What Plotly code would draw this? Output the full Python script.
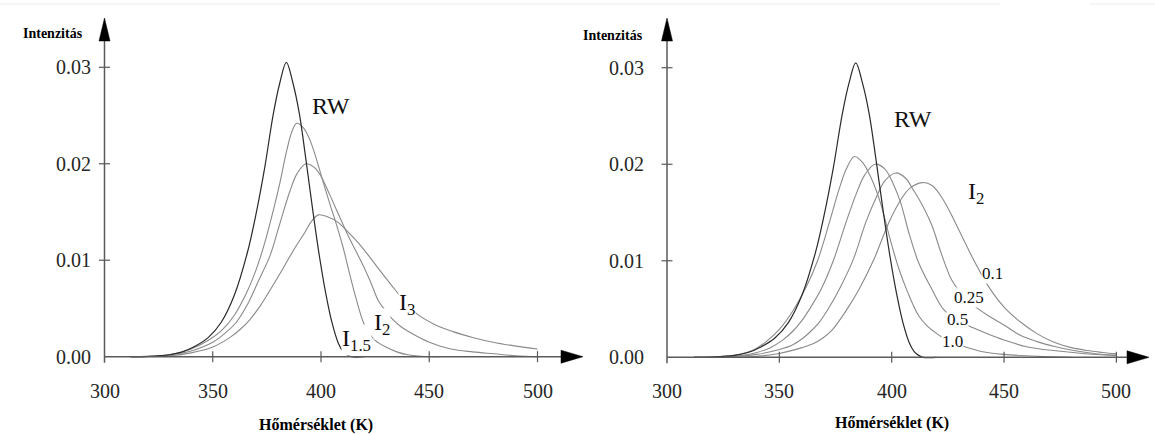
import plotly.graph_objects as go

# ---------------- data ----------------
X_TICKS = [300, 350, 400, 450, 500]
Y_TICKS = [0.00, 0.01, 0.02, 0.03]
Y_TICK_TEXT = ["0.00", "0.01", "0.02", "0.03"]
X_TITLE = "Hőmérséklet (K)"
Y_TITLE = "Intenzitás"

# Randall-Wilkins curve (both panels)
RW_T = [312, 320, 330, 336, 342, 348, 354, 360, 366, 370, 374, 378, 381, 384, 387, 390, 393, 396, 399, 402, 405, 408, 410, 412, 414, 420]
RW_I = [0.0, 0.00003, 0.0002, 0.0005, 0.0011, 0.0020, 0.0036, 0.0064, 0.0108, 0.0148, 0.0196, 0.0252, 0.0284, 0.0305, 0.0284, 0.0252, 0.0205, 0.0155, 0.0108, 0.0068, 0.0036, 0.0014, 0.0006, 0.0002, 0.0, 0.0]

# left panel: general-order curves b = 1.5, 2, 3
I15_T = [312, 320, 330, 340, 348, 354, 360, 366, 370, 374, 378, 381, 384, 386.5, 388.8, 392, 395, 398, 401, 404, 407, 410, 413, 416, 419.5, 422, 425, 430, 435, 440, 446, 455]
I15_I = [0.0, 0.00002, 0.0002, 0.0008, 0.0017, 0.0027, 0.0043, 0.0068, 0.0090, 0.0118, 0.0152, 0.0180, 0.0212, 0.0233, 0.0242, 0.0237, 0.0224, 0.0204, 0.0181, 0.0159, 0.0138, 0.0115, 0.0088, 0.0062, 0.0036, 0.0025, 0.0017, 0.0010, 0.0005, 0.0002, 0.00005, 0.0]

I2_T = [312, 320, 330, 340, 350, 356, 361, 366, 371, 376.5, 381, 385.7, 389, 393.1, 397, 400, 404, 408, 412, 416, 420, 423, 426.5, 430, 433, 437, 442, 450, 460, 470, 480, 490, 500]
I2_I = [0.0, 0.00002, 0.0002, 0.0006, 0.0015, 0.0025, 0.0036, 0.0054, 0.0078, 0.0105, 0.0138, 0.0172, 0.0190, 0.0200, 0.0196, 0.0187, 0.0168, 0.0148, 0.0128, 0.0110, 0.0092, 0.0077, 0.0058, 0.0047, 0.0039, 0.0031, 0.0024, 0.0015, 0.0008, 0.0005, 0.0003, 0.0001, 0.0]

I3_T = [312, 320, 330, 340, 350, 358, 363, 367, 372, 377, 382.6, 388, 392.6, 395.5, 398.8, 403, 408, 413, 418, 422.6, 427, 432.6, 438, 443.4, 452, 461, 470, 479.5, 490, 500]
I3_I = [0.0, 0.00001, 0.0001, 0.0004, 0.0010, 0.0020, 0.0029, 0.0038, 0.0053, 0.0071, 0.0092, 0.0113, 0.0129, 0.0140, 0.0147, 0.0145, 0.0139, 0.0128, 0.0116, 0.0103, 0.0090, 0.0074, 0.0059, 0.0046, 0.0034, 0.0026, 0.0020, 0.0015, 0.0011, 0.0008]

# right panel: I2 curves for 1.0, 0.5, 0.25, 0.1
B10_T = [312, 320, 330, 338, 344, 350, 356, 362, 367, 372.3, 376.7, 380, 383.4, 387, 391, 395, 399, 403, 407, 412, 416, 421, 426, 431, 440, 450, 465, 480]
B10_I = [0.0, 0.00002, 0.0002, 0.0007, 0.0016, 0.0029, 0.0048, 0.0073, 0.0100, 0.0140, 0.0175, 0.0196, 0.0208, 0.0202, 0.0185, 0.0160, 0.0125, 0.0093, 0.0068, 0.0043, 0.0032, 0.0023, 0.0016, 0.0012, 0.0006, 0.0003, 0.0001, 0.0]

B05_T = [312, 320, 330, 340, 346, 351.6, 356, 360, 364, 368.7, 374, 379.7, 384, 388, 392.6, 397, 401, 404, 408, 412, 418, 423, 428, 434, 442, 450, 460, 472, 485, 500]
B05_I = [0.0, 0.00001, 0.0001, 0.0005, 0.0010, 0.0018, 0.0027, 0.0038, 0.0052, 0.0071, 0.0100, 0.0140, 0.0168, 0.0189, 0.0200, 0.0195, 0.0178, 0.0160, 0.0126, 0.0098, 0.0070, 0.0050, 0.0041, 0.0033, 0.0025, 0.0018, 0.0011, 0.0007, 0.0004, 0.0002]

B025_T = [312, 320, 330, 340, 350, 356, 360.6, 364, 368, 372, 376.8, 383, 388.5, 393, 397, 401.8, 406, 410, 414, 418, 422, 426.7, 431, 436.3, 443, 450.3, 457, 465, 473, 481, 490, 500]
B025_I = [0.0, 0.0, 0.0001, 0.0003, 0.0008, 0.0013, 0.0020, 0.0027, 0.0037, 0.0051, 0.0071, 0.0102, 0.0140, 0.0165, 0.0183, 0.0191, 0.0186, 0.0172, 0.0156, 0.0136, 0.0108, 0.0080, 0.0066, 0.0054, 0.0043, 0.0033, 0.0023, 0.0016, 0.0011, 0.0007, 0.0004, 0.0002]

B01_T = [312, 330, 340, 350, 360, 365, 369.4, 373, 377, 381, 385.6, 392, 398.8, 404, 408, 413.5, 418, 423, 428.2, 433, 437.8, 442.9, 450, 457.6, 465, 472.3, 480, 487, 494, 500]
B01_I = [0.0, 0.0, 0.0001, 0.0004, 0.0010, 0.0014, 0.0020, 0.0027, 0.0039, 0.0053, 0.0071, 0.0101, 0.0140, 0.0163, 0.0175, 0.0181, 0.0178, 0.0163, 0.0140, 0.0117, 0.0095, 0.0074, 0.0052, 0.0036, 0.0024, 0.00156, 0.0010, 0.0007, 0.0005, 0.00035]

# ---------------- styling / geometry ----------------
W, H = 1155, 434
SERIF = "Liberation Serif, Times New Roman, serif"
DARK = "#2a2a2a"
GREY = "#8a8a8a"
AXIS = "#5a5a5a"

# pixel geometry of each panel: axis origin px, px per K, baseline py, px per unit intensity
P = {
    "L": dict(ax=104.5, k=2.165, base=356.7, v=9647.0, dom=(94, 592), xr="x", yr="y",
              arrow_x=(561, 583), ylab_gap=12),
    "R": dict(ax=667.0, k=2.247, base=357.3, v=9653.0, dom=(655, 1155), xr="x2", yr="y2",
              arrow_x=(1127, 1149), ylab_gap=21),
}
DOM_PY = (12, 372)


def X(p, px):
    return 300 + (px - p["ax"]) / p["k"]


def Y(p, py):
    return (p["base"] - py) / p["v"]


fig = go.Figure()


def add_curve(T, I, p, color, width):
    fig.add_trace(go.Scatter(
        x=T, y=I, mode="lines", xaxis=p["xr"], yaxis=p["yr"],
        line=dict(color=color, width=width, shape="spline", smoothing=1.0),
        hoverinfo="skip", showlegend=False))


pl, pr = P["L"], P["R"]
for T, I in [(I3_T, I3_I), (I2_T, I2_I), (I15_T, I15_I)]:
    add_curve(T, I, pl, GREY, 1.1)
add_curve(RW_T, RW_I, pl, DARK, 1.2)
for T, I in [(B01_T, B01_I), (B025_T, B025_I), (B05_T, B05_I), (B10_T, B10_I)]:
    add_curve(T, I, pr, GREY, 1.1)
add_curve(RW_T, RW_I, pr, DARK, 1.2)

shapes = []
annotations = []

TICK_FONT = dict(family=SERIF, size=20, color="#262626")

for key, p in P.items():
    xr, yr = p["xr"], p["yr"]
    ax = p["ax"]
    # y axis line
    shapes.append(dict(type="line", xref=xr, yref=yr, x0=300, x1=300,
                       y0=Y(p, p["base"] + 6), y1=Y(p, 40),
                       line=dict(color=AXIS, width=1.5)))
    # y arrow head
    shapes.append(dict(type="path", xref=xr, yref=yr,
                       path=f"M {X(p, ax - 5.5)},{Y(p, 41)} L 300,{Y(p, 18)} L {X(p, ax + 5.5)},{Y(p, 41)} Z",
                       fillcolor="black", line=dict(color="black", width=0.5)))
    # x axis line
    a0, a1 = p["arrow_x"]
    shapes.append(dict(type="line", xref=xr, yref=yr, x0=300, x1=X(p, a0 + 1),
                       y0=0, y1=0, line=dict(color=AXIS, width=1.5)))
    shapes.append(dict(type="path", xref=xr, yref=yr,
                       path=f"M {X(p, a0)},{Y(p, p['base'] - 6.5)} L {X(p, a1)},0 L {X(p, a0)},{Y(p, p['base'] + 6.5)} Z",
                       fillcolor="black", line=dict(color="black", width=0.5)))
    # x ticks
    for t in X_TICKS[1:]:
        shapes.append(dict(type="line", xref=xr, yref=yr, x0=t, x1=t,
                           y0=Y(p, p["base"] + 5.5), y1=Y(p, p["base"] - 5.5),
                           line=dict(color=AXIS, width=1.2)))
    # y ticks
    for t in Y_TICKS[1:]:
        shapes.append(dict(type="line", xref=xr, yref=yr, x0=X(p, ax - 5.5), x1=X(p, ax + 5.5),
                           y0=t, y1=t, line=dict(color=AXIS, width=1.2)))
    # tick labels
    for t in X_TICKS:
        annotations.append(dict(xref=xr, yref=yr, x=t, y=0, yshift=-34, text=str(t),
                                showarrow=False, xanchor="center", yanchor="middle",
                                font=TICK_FONT))
    for t, s in zip(Y_TICKS, Y_TICK_TEXT):
        annotations.append(dict(xref=xr, yref=yr, x=300, y=t, xshift=-p["ylab_gap"], text=s,
                                showarrow=False, xanchor="right", yanchor="middle",
                                font=TICK_FONT))

# axis titles
TITLE_Y_FONT = dict(family=SERIF, size=14, color="black", weight="bold")
TITLE_X_FONT = dict(family=SERIF, size=16, color="black", weight="bold")
annotations += [
    dict(xref="paper", yref="paper", x=53 / W, y=1 - 33.5 / H, text=Y_TITLE,
         showarrow=False, xanchor="center", yanchor="middle", font=TITLE_Y_FONT),
    dict(xref="paper", yref="paper", x=613 / W, y=1 - 36 / H, text=Y_TITLE,
         showarrow=False, xanchor="center", yanchor="middle", font=TITLE_Y_FONT),
    dict(xref="paper", yref="paper", x=316 / W, y=1 - 425 / H, text=X_TITLE,
         showarrow=False, xanchor="center", yanchor="middle", font=TITLE_X_FONT),
    dict(xref="paper", yref="paper", x=892 / W, y=1 - 423 / H, text=X_TITLE,
         showarrow=False, xanchor="center", yanchor="middle", font=TITLE_X_FONT),
]


# curve labels (white background hides the curve behind them, as in the original)
def label(p, cx, cy, text, size, bg=True):
    annotations.append(dict(xref=p["xr"], yref=p["yr"], x=X(p, cx), y=Y(p, cy), text=text,
                            showarrow=False, xanchor="center", yanchor="middle",
                            bgcolor="white" if bg else "rgba(0,0,0,0)", borderpad=0,
                            font=dict(family=SERIF, size=size, color="#111")))


label(pl, 331, 106, "RW", 24, bg=False)
label(pl, 406.5, 304, "I<sub>3</sub>", 24)
label(pl, 381.5, 324, "I<sub>2</sub>", 24)
label(pl, 356, 340, "I<sub>1.5</sub>", 24)

label(pr, 913, 118.5, "RW", 24, bg=False)
label(pr, 976, 193, "I<sub>2</sub>", 24, bg=False)
label(pr, 992, 273, "0.1", 17)
label(pr, 969, 297.5, "0.25", 17)
label(pr, 957.5, 319, "0.5", 17)
label(pr, 952, 341.5, "1.0", 17)

# faint frame line at the very top of the scan
shapes.append(dict(type="line", xref="paper", yref="paper", x0=0, x1=1000 / W,
                   y0=1 - 4 / H, y1=1 - 4 / H, line=dict(color="#ececec", width=1)))
shapes.append(dict(type="line", xref="paper", yref="paper", x0=1090 / W, x1=1,
                   y0=1 - 4 / H, y1=1 - 4 / H, line=dict(color="#ececec", width=1)))


def axis_cfg(p, kind):
    if kind == "x":
        d0, d1 = p["dom"]
        rng = [X(p, d0), X(p, d1)]
        dom = [d0 / W, d1 / W]
    else:
        rng = [Y(p, DOM_PY[1]), Y(p, DOM_PY[0])]
        dom = [1 - DOM_PY[1] / H, 1 - DOM_PY[0] / H]
    return dict(domain=dom, range=rng, showgrid=False, zeroline=False, showline=False,
                showticklabels=False, ticks="", fixedrange=True)


xl, yl = axis_cfg(pl, "x"), axis_cfg(pl, "y")
xr_, yr_ = axis_cfg(pr, "x"), axis_cfg(pr, "y")
xl["anchor"] = "y"; yl["anchor"] = "x"
xr_["anchor"] = "y2"; yr_["anchor"] = "x2"

fig.update_layout(
    width=W, height=H, margin=dict(l=0, r=0, t=0, b=0),
    paper_bgcolor="white", plot_bgcolor="rgba(0,0,0,0)",
    xaxis=xl, yaxis=yl, xaxis2=xr_, yaxis2=yr_,
    shapes=shapes, annotations=annotations, showlegend=False,
)

fig.write_html("out.html")
